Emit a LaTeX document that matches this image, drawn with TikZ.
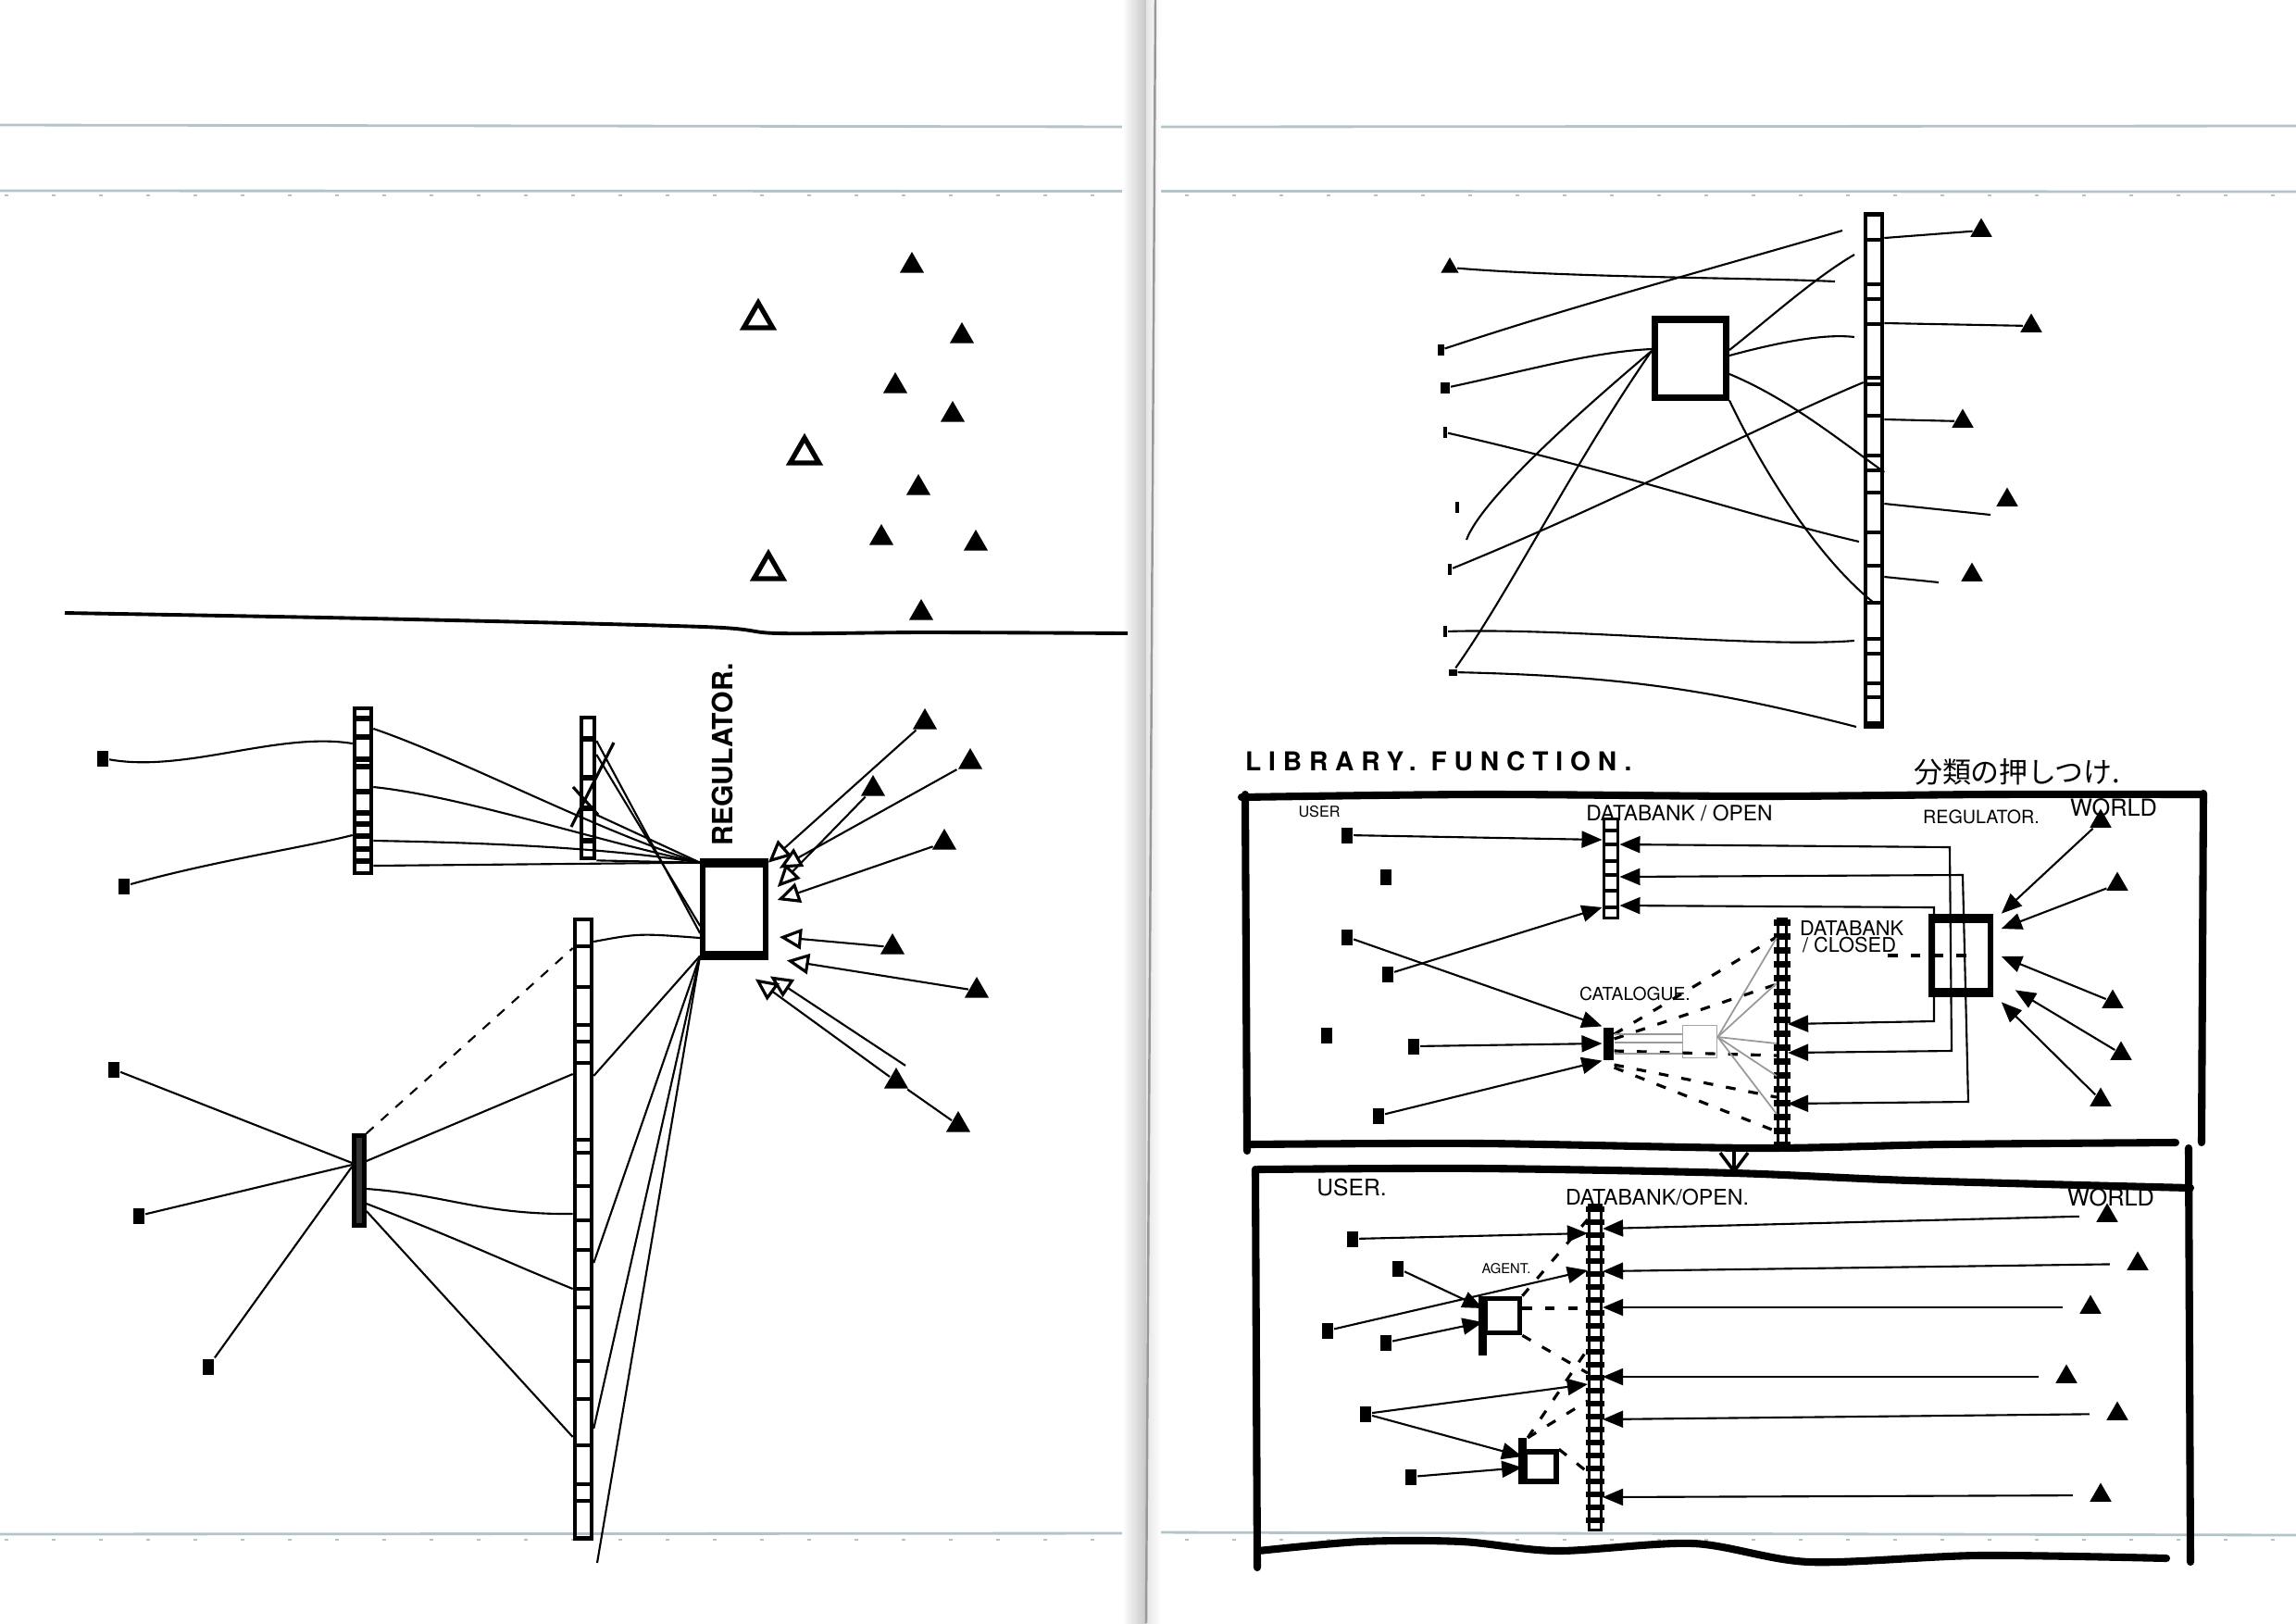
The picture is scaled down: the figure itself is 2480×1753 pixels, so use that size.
\documentclass[tikz,border=0pt]{standalone}
\usepackage{fontspec}
\setmainfont{TeX Gyre Heros}
\newfontfamily\cjkfont{Noto Sans CJK JP}
\newfontfamily\widefont[LetterSpace=28]{TeX Gyre Heros}
\usetikzlibrary{arrows.meta,shapes.geometric,calc}
\definecolor{ruleline}{RGB}{178,196,200}
\tikzset{every picture/.style={line width=0.6pt}}
\tikzset{
  wire/.style={line width=0.6pt},
  ladder/.style={draw, line width=1.3pt, inner sep=0pt, minimum width=0.18cm},
  rung/.style={line width=1.5pt},
  user/.style={fill, inner sep=0pt, minimum width=0.12cm, minimum height=0.17cm},
  tickmark/.style={fill, inner sep=0pt, minimum width=0.04cm, minimum height=0.12cm},
  world/.style={regular polygon, regular polygon sides=3, fill, inner sep=0pt, minimum size=0.3cm},
  hollow/.style={regular polygon, regular polygon sides=3, draw, line width=1.5pt, inner sep=0pt, minimum size=0.36cm},
  into/.style={-{Triangle[length=2.2mm,width=1.8mm]}},
  twoway/.style={{Triangle[length=2.2mm,width=1.8mm]}-{Triangle[length=2.2mm,width=1.8mm]}},
  openinto/.style={-{Triangle[open,length=2.4mm,width=2.2mm,line width=0.9pt]}},
  frameline/.style={line width=2.3pt, line cap=round, line join=round},
  dashlink/.style={dash pattern=on 3pt off 4pt, line width=0.9pt},
  greylink/.style={black!40, line width=0.5pt},
  tag/.style={inner sep=0pt},
}

\begin{document}
\begin{tikzpicture}[x=0.01cm, y=-0.01cm]
    \useasboundingbox (0,0) rectangle (2480,1753);
    \fill[white] (0,0) rectangle (2480,1753);
    % notebook page
    \draw[ruleline, line width=0.8pt] (0,135) -- (1237,137);
    \draw[ruleline, line width=0.8pt] (1250,137) -- (2480,136);
    \draw[ruleline, line width=0.8pt] (0,206) -- (2480,207);
    \draw[ruleline, line width=0.8pt] (0,1657) -- (1237,1656);
    \draw[ruleline, line width=0.8pt] (1239,1655) -- (2480,1658);
    \foreach \x in {5,56,...,2480} {
        \fill[ruleline] (\x,210) rectangle +(4,2);
        \fill[ruleline] (\x,1662) rectangle +(4,2);
    }
    \fill[left color=white, right color=black!22] (1212,0) rectangle (1238,1753);
    \fill[left color=black!10, right color=white] (1238,0) rectangle (1254,1753);
    \draw[black!40, line width=0.7pt] (1248,0) -- (1238,1753);

    % ---- left page, above the line
    \foreach \i/\p in {1/{985,287}, 2/{1039,363}, 3/{967,417}, 4/{1029,448},
                       5/{992,527}, 6/{952,581}, 7/{1054,587}, 8/{995,662}}
        \node[world] (lt\i) at (\p) {};
    \foreach \i/\p in {1/{819,345}, 2/{869,491}, 3/{830,616}}
        \node[hollow] (lh\i) at (\p) {};
    \draw[line width=1.1pt] plot[smooth] coordinates {(70,662) (400,668) (760,677) (840,684) (1000,683) (1218,684)};

    % ---- left page, below the line
    \node[ladder, minimum height=1.78cm] (labA) at (392,854) {};
    \foreach \y in {776,796,820,828,855,878,890,903,917,930}
        \draw[rung] (labA.west |- 0,\y) -- (labA.east |- 0,\y);
    \node[ladder, minimum width=0.14cm, minimum height=1.52cm] (labB) at (635,851) {};
    \foreach \y in {798,840,873,908}
        \draw[rung] (labB.west |- 0,\y) -- (labB.east |- 0,\y);
    \node[ladder, minimum height=6.68cm] (labC) at (630,1327) {};
    \foreach \y in {1022,1066,1107,1125,1148,1231,1245,1281,1318,1350,1392,1412,1470,1511,1561,1603,1621}
        \draw[line width=1.2pt] (labC.west |- 0,\y) -- (labC.east |- 0,\y);
    \node[ladder, fill=black!80, minimum width=0.11cm, minimum height=0.97cm] (labD) at (388,1275) {};

    \node[draw, line width=1.6pt, minimum width=0.68cm, minimum height=0.95cm] (regA) at (793,982) {};
    \draw[line width=2.6pt] (regA.north west) -- (regA.north east);
    \draw[line width=2.6pt] (regA.south west) -- (regA.south east);
    \node[tag, rotate=90] (regAtxt) at (780,815) {\bfseries\fontsize{8.6}{9}\selectfont REGULATOR.};

    \node[user] (uA1) at (111,819) {};
    \node[user] (uA2) at (134,957) {};
    \node[user] (uD1) at (123,1155) {};
    \node[user] (uD2) at (150,1313) {};
    \node[user] (uD3) at (225,1476) {};
    \coordinate (lowend) at (645,1688);

    \draw[wire] (uA1) .. controls (200,835) and (300,790) .. (labA.west |- 0,803);
    \draw[wire] (uA2) .. controls (230,930) and (330,915) .. (labA.west |- 0,902);
    \draw[wire] (labA.east |- 0,787) .. controls (500,820) and (650,900) .. (regA.north west);
    \draw[wire] (labA.east |- 0,850) .. controls (500,860) and (650,910) .. (regA.north west);
    \draw[wire] (labA.east |- 0,908) .. controls (520,910) and (650,915) .. (regA.north west);
    \draw[wire] (labA.east |- 0,935) -- (regA.north west);
    \draw[wire] (labB.east |- 0,800) -- (regA.west |- 0,1008);
    \draw[wire] (labB.east |- 0,815) -- (regA.west |- 0,1000);
    \draw[wire] (labB.east |- 0,880) -- (regA.north west);
    \draw[wire] (labB.south east) -- (regA.north west);
    \draw[line width=0.9pt] (663,802) -- (617,893);
    \draw[line width=0.9pt] (619,850) -- (646,880);
    \draw[wire] (labC.east |- 0,1017) .. controls (690,1008) .. (regA.west |- 0,1013);
    \foreach \y in {1162,1364,1543}
        \draw[wire] (regA.south west) -- (labC.east |- 0,\y);
    \draw[wire] (regA.south west) -- (lowend);

    \draw[wire, dashed] (labD.north east) -- (labC.west |- 0,1024);
    \draw[wire] (labD.east |- 0,1254) -- (labC.west |- 0,1160);
    \draw[wire] (labD.east |- 0,1284) .. controls (480,1290) and (520,1312) .. (labC.west |- 0,1311);
    \draw[wire] (labD.east |- 0,1300) .. controls (500,1340) and (540,1360) .. (labC.west |- 0,1392);
    \draw[wire] (labD.east |- 0,1308) -- (labC.west |- 0,1552);
    \draw[wire] (uD1) -- (labD.west |- 0,1256);
    \draw[wire] (uD2) -- (labD.west |- 0,1258);
    \draw[wire] (uD3) -- (labD.west |- 0,1260);

    \foreach \i/\p in {1/{999,780}, 2/{1048,823}, 3/{943,852}, 4/{1020,910},
                       5/{964,1023}, 6/{1055,1070}, 7/{968,1168}, 8/{1035,1215}}
        \node[world] (wA\i) at (\p) {};
    \draw[wire, openinto] (wA1) -- (regA.north east);
    \draw[wire, openinto] (wA2) -- ($(regA.north east)+(12,6)$);
    \draw[wire, openinto] (wA3) -- ($(regA.east |- 0,958)+(10,0)$);
    \draw[wire, openinto] (wA4) -- ($(regA.east |- 0,972)+(10,0)$);
    \draw[wire, openinto] (wA5) -- ($(regA.east |- 0,1012)+(12,0)$);
    \draw[wire, openinto] (wA6) -- ($(regA.south east)+(20,5)$);
    \draw[wire, openinto] (wA7) -- ($(regA.south east)+(-14,25)$);
    \draw[wire, openinto] ([xshift=0.1cm]wA7.north) -- ($(regA.south east)+(2,22)$);
    \draw[wire] (wA8) -- (wA7);

    % ---- right page, top
    \node[ladder, minimum height=5.53cm] (labE) at (2024,508) {};
    \foreach \y in {259,307,323,350,408,415,449,492,508,532,575,611,651,690,706,738,753,781}
        \draw[line width=1.2pt] (labE.west |- 0,\y) -- (labE.east |- 0,\y);
    \node[draw, line width=2pt, minimum width=0.77cm, minimum height=0.84cm] (boxF) at (1826,387) {};
    \node[world, minimum size=0.22cm] (e1) at (1566,289) {};
    \node[user, minimum width=0.07cm, minimum height=0.12cm] (e2) at (1556,378) {};
    \node[user, minimum width=0.1cm, minimum height=0.12cm] (e3) at (1561,419) {};
    \node[tickmark] (e4) at (1561,467) {};
    \node[tickmark] (e5) at (1574,548) {};
    \node[tickmark] (e6) at (1566,615) {};
    \node[tickmark] (e7) at (1561,682) {};
    \node[user, minimum width=0.09cm, minimum height=0.07cm] (e8) at (1569,726) {};
    \foreach \i/\p in {1/{2140,249}, 2/{2194,352}, 3/{2120,455}, 4/{2168,540}, 5/{2130,621}}
        \node[world, minimum size=0.27cm] (f\i) at (\p) {};
    \foreach \n/\p in {fe1/{1982,304}, fe2/{1990,249}, fe4/{1584,583}, fe6/{2003,275},
                       fe7/{2003,364}, fe10/{2008,585}, fe12/{2003,692}, fe13/{2005,785},
                       fe17/{2150,556}, fe18/{2094,629}}
        \coordinate (\n) at (\p);

    \draw[wire] (e1) .. controls (1700,300) and (1900,300) .. (fe1);
    \draw[wire] (e2) .. controls (1700,330) and (1850,290) .. (fe2);
    \draw[wire] (e3) .. controls (1650,400) and (1720,380) .. (boxF.west |- 0,377);
    \draw[wire] (boxF.west |- 0,379) .. controls (1700,450) and (1600,540) .. (fe4);
    \draw[wire] (boxF.west |- 0,379) .. controls (1700,500) and (1630,640) .. (e8);
    \draw[wire] (boxF.east |- 0,378) .. controls (1910,345) and (1960,300) .. (fe6);
    \draw[wire] (boxF.east |- 0,384) .. controls (1920,370) and (1970,360) .. (fe7);
    \draw[wire] (boxF.east |- 0,404) .. controls (1930,430) and (1980,470) .. (labE.east |- 0,510);
    \draw[wire] (boxF.south east) .. controls (1900,500) and (1960,600) .. (labE |- 0,651);
    \draw[wire] (e4) .. controls (1750,510) and (1900,560) .. (fe10);
    \draw[wire] (e6) .. controls (1750,540) and (1900,460) .. (labE.west |- 0,413);
    \draw[wire] (e7) .. controls (1700,678) and (1900,700) .. (fe12);
    \draw[wire] (e8) .. controls (1750,730) and (1850,745) .. (fe13);
    \draw[wire] (labE.east |- 0,257) -- (f1);
    \draw[wire] (labE.east |- 0,349) -- (f2);
    \draw[wire] (labE.east |- 0,453) -- (f3);
    \draw[wire] (labE.east |- 0,544) -- (fe17);
    \draw[wire] (labE.east |- 0,623) -- (fe18);

    % ---- right page, titles
    \node[tag, anchor=west] (title) at (1344,822) {\widefont\bfseries\fontsize{8}{8}\selectfont LIBRARY. FUNCTION.};
    \node[tag, anchor=west] (jtitle) at (2066,834) {\cjkfont\fontsize{8.8}{9}\selectfont 分類の押しつけ.};

    % ---- upper frame
    \draw[frameline] plot[smooth] coordinates {(1341,861) (1600,858) (1900,860) (2150,858) (2380,858)};
    \draw[frameline] (1345,858) -- (1347,1243);
    \draw[frameline] plot[smooth] coordinates {(1348,1236) (1600,1235) (1900,1240) (2100,1236) (2350,1234)};
    \draw[frameline] (2380,857) -- (2378,1234);
    \coordinate (b1bot) at (1873,1236);
    \coordinate (b2top) at (1873,1268);
    \draw[line width=1pt, -{Straight Barb[length=2mm,width=3mm]}] (b1bot) -- (b2top);

    \node[ladder, line width=1.1pt, minimum width=0.15cm, minimum height=1.07cm] (dbOpen) at (1740,938) {};
    \foreach \y in {897,912,930,945,962,980}
        \draw[line width=1.3pt] (dbOpen.west |- 0,\y) -- (dbOpen.east |- 0,\y);
    \node[ladder, line width=0.9pt, minimum width=0.09cm, minimum height=2.47cm] (dbClosed) at (1925,1116) {};
    \foreach \y in {996,1011,...,1236}
        \draw[line width=2pt] ($(dbClosed.west |- 0,\y)+(-3,0)$) -- ($(dbClosed.east |- 0,\y)+(3,0)$);
    \node[draw, line width=1.6pt, minimum width=0.64cm, minimum height=0.75cm] (reg) at (2118,1032) {};
    \draw[line width=2.6pt] (reg.north west) -- (reg.north east);
    \draw[line width=2.6pt] (reg.south west) -- (reg.south east);
    \node[fill, inner sep=0pt, minimum width=0.11cm, minimum height=0.35cm] (cat) at (1737,1127) {};
    \node[draw=black!35, line width=0.5pt, minimum width=0.37cm, minimum height=0.35cm] (gbox) at (1836,1125) {};

    \node[tag] (t1) at (1425,877) {\fontsize{4.6}{5}\selectfont USER};
    \node[tag] (t2) at (1814,878) {\fontsize{6.5}{7}\selectfont DATABANK / OPEN};
    \node[tag] (t3) at (2140,882) {\fontsize{5.6}{6}\selectfont REGULATOR.};
    \node[tag] (t4) at (2283,872) {\fontsize{7.2}{7}\selectfont WORLD};
    \node[tag, anchor=west] (t5) at (1943,1003) {\fontsize{6.2}{6}\selectfont DATABANK};
    \node[tag, anchor=west] (t6) at (1946,1021) {\fontsize{6.2}{6}\selectfont / CLOSED};
    \node[tag] (t7) at (1766,1073) {\fontsize{5.5}{6}\selectfont CATALOGUE.};

    \foreach \i/\p in {1/{1455,902}, 2/{1497,947}, 3/{1455,1012}, 4/{1499,1052},
                       5/{1433,1118}, 6/{1527,1130}, 7/{1489,1205}}
        \node[user] (v\i) at (\p) {};
    \foreach \i/\p in {1/{2269,887}, 2/{2287,955}, 3/{2282,1082}, 4/{2291,1138}, 5/{2269,1188}}
        \node[world, minimum size=0.27cm] (w\i) at (\p) {};

    \draw[wire, into] (v1) -- (dbOpen.west |- 0,907);
    \draw[wire, into] (v4) -- (dbOpen.west |- 0,980);
    \draw[wire, into] (v3) -- (cat.north west);
    \draw[wire, into] (v6) -- (cat.west);
    \draw[wire, into] (v7) -- (cat.south west);
    \draw[wire, twoway] (dbOpen.east |- 0,912) -- (2106,915) -- (2108,1135) -- (dbClosed.east |- 0,1137);
    \draw[wire, twoway] (dbOpen.east |- 0,947) -- (2120,945) -- (2126,1190) -- (dbClosed.east |- 0,1192);
    \draw[wire, twoway] (dbOpen.east |- 0,978) -- (2089,980) -- (2089,1103) -- (dbClosed.east |- 0,1106);
    \draw[dashlink] ($(reg.west)+(-44,0)$) -- ($(reg.west)+(44,0)$);
    \draw[wire, into] (w1) -- ($(reg.north east)+(9,-5)$);
    \draw[wire, into] (w2) -- ($(reg.east |- 0,1003)+(9,0)$);
    \draw[wire, into] (w3) -- ($(reg.east |- 0,1033)+(9,0)$);
    \draw[wire, into] (w4) -- ($(reg.south east)+(24,-3)$);
    \draw[wire, into] (w5) -- ($(reg.south east)+(9,10)$);
    \foreach \a/\b in {1117/1012, 1122/1063, 1135/1140, 1150/1185, 1153/1222}
        \draw[dashlink] (cat.east |- 0,\a) -- (dbClosed.west |- 0,\b);
    \foreach \a in {1117,1126,1138}
        \draw[greylink] (cat.east |- 0,\a) -- (gbox.west |- 0,\a);
    \foreach \b in {1013,1062,1127,1162,1203}
        \draw[greylink] (gbox.east |- 0,1120) -- (dbClosed.west |- 0,\b);

    % ---- lower frame
    \draw[frameline] plot[smooth] coordinates {(1359,1263) (1600,1262) (1873,1267) (2064,1275) (2366,1283)};
    \draw[frameline] (1356,1263) -- (1358,1693);
    \draw[frameline] (2364,1240) -- (2366,1687);
    \draw[frameline] plot[smooth] coordinates {(1359,1675) (1470,1665) (1579,1665) (1682,1675) (1829,1667) (1954,1687) (2137,1680) (2340,1683)};

    \node[ladder, line width=0.9pt, minimum width=0.13cm, minimum height=3.51cm] (dbOpen2) at (1723,1477) {};
    \foreach \y in {1306,1320,...,1650}
        \draw[line width=1.8pt] ($(dbOpen2.west |- 0,\y)+(-2,0)$) -- ($(dbOpen2.east |- 0,\y)+(2,0)$);
    \node[draw, line width=1.6pt, minimum width=0.37cm, minimum height=0.37cm] (ag1) at (1623,1421) {};
    \draw[line width=2.6pt] (ag1.north west) -- ++(0,64);
    \node[draw, line width=1.6pt, minimum width=0.34cm, minimum height=0.32cm] (ag2) at (1664,1584) {};
    \draw[line width=2.6pt] (ag2.south west) -- ++(0,-50);

    \node[tag] (s1) at (1460,1283) {\fontsize{7}{7}\selectfont USER.};
    \node[tag] (s2) at (1790,1293) {\fontsize{6.6}{7}\selectfont DATABANK/OPEN.};
    \node[tag] (s3) at (2280,1293) {\fontsize{7.2}{7}\selectfont WORLD};
    \node[tag] (s4) at (1627,1370) {\fontsize{4.2}{5}\selectfont AGENT.};

    \foreach \i/\p in {1/{1461,1338}, 2/{1510,1370}, 3/{1434,1437}, 4/{1497,1450},
                       5/{1475,1527}, 6/{1524,1595}}
        \node[user] (x\i) at (\p) {};
    \foreach \i/\p in {1/{2276,1313}, 2/{2309,1365}, 3/{2258,1412}, 4/{2232,1487},
                       5/{2287,1527}, 6/{2269,1615}}
        \node[world, minimum size=0.27cm] (y\i) at (\p) {};

    \draw[wire, into] (x1) -- (dbOpen2.west |- 0,1332);
    \draw[wire, into] (x3) -- (dbOpen2.west |- 0,1372);
    \draw[wire, into] (x2) -- (ag1.west |- 0,1413);
    \draw[wire, into] (x4) -- (ag1.west |- 0,1428);
    \draw[wire, into] (x5) -- (dbOpen2.west |- 0,1495);
    \draw[wire, into] (x5) -- (ag2.west |- 0,1573);
    \draw[wire, into] (x6) -- (ag2.west |- 0,1585);
    \draw[dashlink] (ag1.north east) -- (dbOpen2.west |- 0,1317);
    \draw[dashlink] (ag1.east |- 0,1413) -- (dbOpen2.west |- 0,1413);
    \draw[dashlink] (ag1.south east) -- (dbOpen2.west |- 0,1483);
    \draw[dashlink] ($(ag2.south west)+(6,-50)$) -- (dbOpen2.west |- 0,1513);
    \draw[dashlink] ($(ag2.south west)+(6,-50)$) -- (dbOpen2.west |- 0,1457);
    \draw[dashlink] (ag2.north east) -- (dbOpen2.west |- 0,1590);
    \foreach \i/\y in {1/1327, 2/1373, 3/1412, 4/1487, 5/1533, 6/1617}
        \draw[wire, into, shorten <=6pt] (y\i) -- (dbOpen2.east |- 0,\y);
\end{tikzpicture}
\end{document}
